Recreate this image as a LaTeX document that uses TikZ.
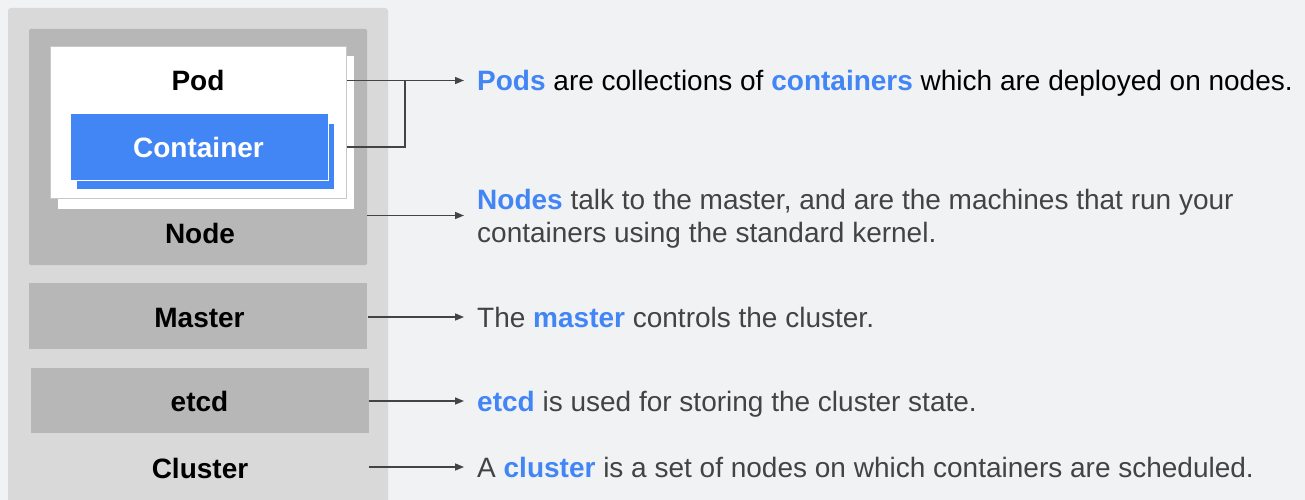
\documentclass[tikz,border=0pt]{standalone}
\usepackage{fontspec}
\setmainfont{Liberation Sans}
\usetikzlibrary{arrows.meta,calc}
\definecolor{bg}{HTML}{F1F2F4}
\definecolor{clusterc}{HTML}{D9D9D9}
\definecolor{nodec}{HTML}{B7B7B7}
\definecolor{gblue}{HTML}{4285F4}
\definecolor{dgray}{HTML}{434343}
\definecolor{arrc}{HTML}{444444}
\definecolor{podborder}{HTML}{C8C8C8}
\newcommand{\hb}[1]{\textcolor{gblue}{\bfseries #1}}
\begin{document}
\begin{tikzpicture}[x=1pt,y=-1pt,
  lbl/.style={font=\fontsize{28}{33}\selectfont\bfseries, inner sep=0, text height=25pt, text depth=5pt},
  desc/.style={font=\fontsize{28}{33}\selectfont, text=dgray, anchor=west, inner sep=0, text height=25pt, text depth=5pt},
  arr/.style={draw=arrc, line width=1.5pt, -{Triangle[length=9pt,width=7pt]}},
  box/.style={draw=none, inner sep=0}
]
% background
\fill[bg] (0,0) rectangle (1305,500);
\useasboundingbox (0,0) rectangle (1305,500);
% cluster
\fill[clusterc, rounded corners=3pt] (8,8) rectangle (388,520);
\node[box, fill=nodec, minimum width=338pt, minimum height=236pt, rounded corners=1.5pt] (noder) at (198,147) {};
% pod
\node[box, fill=white, minimum width=296pt, minimum height=152.5pt] (podb) at (205.8,132.3) {};
\node[box, fill=white, draw=podborder, line width=0.8pt, minimum width=296.5pt, minimum height=152pt] (podf) at (198.3,122.2) {};
% container
\node[box, fill=gblue, minimum width=257.3pt, minimum height=65pt] (contb) at (205.7,156.5) {};
\node[box, fill=gblue, draw=white, line width=1pt, minimum width=257.3pt, minimum height=66pt] (contf) at (199.6,147) {};
% master, etcd
\node[box, fill=nodec, minimum width=338pt, minimum height=65.7pt] (master) at (198.3,316.2) {};
\node[box, fill=nodec, minimum width=338pt, minimum height=65.6pt] (etcd) at (199.7,400.5) {};
% labels
\node[lbl] (podlbl) at (198,81) {Pod};
\node[lbl, text=white] (contlbl) at (198.5,147.5) {Container};
\node[lbl] (nodelbl) at (200,233) {Node};
\node[lbl] (masterlbl) at (199.5,317.5) {Master};
\node[lbl] (etcdlbl) at (199.5,401.5) {etcd};
\node[lbl] (clusterlbl) at (200,468) {Cluster};
% descriptions
\node[desc, text=black] (tpod) at (477,80.5) {\hb{Pods} are collections of \hb{containers} which are deployed on nodes.};
\node[desc] (tnode1) at (477,199) {\hb{Nodes} talk to the master, and are the machines that run your};
\node[desc] (tnode2) at (477,232) {containers using the standard kernel.};
\node[desc] (tmaster) at (477,317) {The \hb{master} controls the cluster.};
\node[desc] (tetcd) at (477,401) {\hb{etcd} is used for storing the cluster state.};
\node[desc] (tcluster) at (477,467) {A \hb{cluster} is a set of nodes on which containers are scheduled.};
% connectors
\coordinate (jn) at (405,80);
\draw[arr, shorten >=13pt] (podf.east |- tpod.west) -- (tpod.west);
\draw[draw=arrc, line width=1.5pt] (podf.east |- 0,147) -| (jn);
\draw[arr, shorten >=13pt] (noder.east |- 0,215.5) -- ($(tnode1.west)!0.5!(tnode2.west)$);
\draw[arr, shorten >=13pt] (master.east |- tmaster.west) -- (tmaster.west);
\draw[arr, shorten >=13pt] (etcd.east |- tetcd.west) -- (tetcd.west);
\draw[arr, shorten >=13pt] (etcd.east |- tcluster.west) -- (tcluster.west);
\end{tikzpicture}
\end{document}
